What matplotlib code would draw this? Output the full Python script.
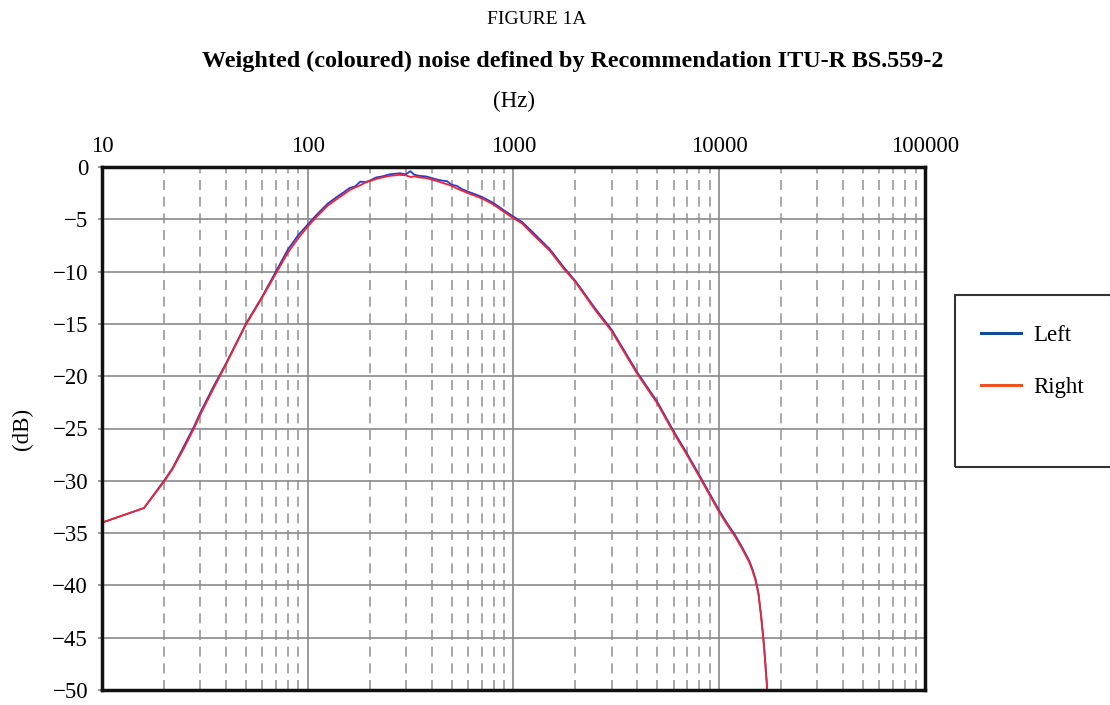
import numpy as np
import matplotlib
matplotlib.use('Agg')
import matplotlib.pyplot as plt
from matplotlib.ticker import FixedLocator, FixedFormatter, LogLocator, NullFormatter
from matplotlib.lines import Line2D
from matplotlib.patches import Rectangle

plt.rcParams['font.family'] = ['Liberation Serif', 'DejaVu Serif']

# frequency points (Hz)
freq = [10, 16, 20, 22, 25, 28, 30, 35, 40, 45,
        50, 60, 70, 80, 90, 100, 110, 125, 140, 150,
        160, 170, 180, 190, 200, 215, 230, 250, 265, 280,
        300, 315, 330, 350, 375, 400, 425, 450, 475, 500,
        530, 560, 600, 650, 700, 750, 800, 900, 1000, 1100,
        1250, 1500, 1750, 2000, 2500, 3000, 3500, 4000, 5000, 6000,
        7000, 8000, 9000, 10000, 11000, 12000, 13000, 14000, 14500, 15000,
        15500, 16000, 16500, 17000, 17300]

# left channel level (dB)
left = [-34.0, -32.6, -30.0, -28.8, -26.7, -24.8, -23.5, -20.9, -18.8, -16.8,
        -15.0, -12.4, -10.0, -7.9, -6.5, -5.5, -4.6, -3.5, -2.8, -2.4,
        -2.0, -1.85, -1.4, -1.45, -1.3, -1.0, -0.9, -0.7, -0.65, -0.6,
        -0.7, -0.4, -0.75, -0.85, -0.9, -1.05, -1.2, -1.3, -1.35, -1.7,
        -1.8, -2.1, -2.35, -2.6, -2.85, -3.15, -3.45, -4.15, -4.75, -5.25,
        -6.3, -7.85, -9.55, -10.9, -13.55, -15.55, -17.75, -19.65, -22.45, -25.25,
        -27.45, -29.45, -31.25, -32.85, -34.15, -35.25, -36.45, -37.65, -38.45, -39.35,
        -40.7, -43.0, -45.7, -49.2, -51.5]

# right channel level (dB)
right = [-34.0, -32.6, -30.1, -28.9, -26.9, -25.0, -23.7, -21.1, -18.9, -16.9,
         -15.1, -12.5, -10.2, -8.2, -6.8, -5.7, -4.8, -3.7, -3.0, -2.6,
         -2.2, -1.95, -1.75, -1.5, -1.35, -1.15, -1.0, -0.85, -0.8, -0.75,
         -0.8, -0.95, -0.9, -1.0, -1.05, -1.2, -1.35, -1.5, -1.65, -1.8,
         -2.05, -2.25, -2.5, -2.75, -3.0, -3.3, -3.6, -4.3, -4.9, -5.4,
         -6.5, -8.0, -9.7, -11.0, -13.7, -15.7, -17.9, -19.8, -22.6, -25.4,
         -27.6, -29.6, -31.4, -33.0, -34.3, -35.4, -36.6, -37.8, -38.6, -39.5,
         -40.8, -43.1, -45.8, -49.2, -51.5]

xticks = [10, 100, 1000, 10000, 100000]
xtick_labels = ['10', '100', '1000', '10000', '100000']
yticks = [0, -5, -10, -15, -20, -25, -30, -35, -40, -45, -50]

fig = plt.figure(figsize=(11.1, 7.05), dpi=100)
ax = fig.add_axes([102/1110, 1-690/705, (925-102)/1110, (690-167)/705])

ax.plot(freq, left, color='#3038d0', lw=1.3, label='Left')
ax.plot(freq, right, color='#ee2630', lw=1.3, label='Right')

ax.set_xscale('log')
ax.set_xlim(10, 100000)
ax.set_ylim(-50, 0)

ax.xaxis.set_major_locator(FixedLocator(xticks))
ax.xaxis.set_major_formatter(FixedFormatter(xtick_labels))
ax.xaxis.set_minor_locator(LogLocator(base=10, subs=np.arange(2, 10)))
ax.xaxis.set_minor_formatter(NullFormatter())
ax.xaxis.tick_top()
ax.xaxis.set_label_position('top')
ax.tick_params(axis='x', which='both', length=0, pad=7, labelsize=16.5)
ax.set_yticks(yticks)
ax.tick_params(axis='y', length=3, color='#888888', width=1.2, pad=7, labelsize=16.5)

ax.grid(True, which='major', axis='both', color='#8a8a8a', lw=1.2)
ax.grid(True, which='minor', axis='x', color='#9a9a9a', lw=1.2, linestyle=(0, (6, 4)))
ax.set_axisbelow(True)
for s in ax.spines.values():
    s.set_linewidth(2.5)
    s.set_color('#111111')

ax.set_xlabel('(Hz)', fontsize=16.5, labelpad=21)
ax.set_ylabel('(dB)', fontsize=16.5, labelpad=14)

fig.text(0.484, 1-20/705, 'FIGURE 1A', ha='center', va='center', fontsize=14)
fig.text(0.516, 1-61/705, 'Weighted (coloured) noise defined by Recommendation ITU-R BS.559-2',
         ha='center', va='center', fontsize=17.4, fontweight='bold')

# legend box sticking out past the right edge
fig.patches.append(Rectangle((955/1110, 1-467/705), 0.2, (467-295)/705, transform=fig.transFigure,
                             fill=False, edgecolor='#333333', lw=1.5))
handles = [Line2D([], [], color='#0d4a9a', lw=2.2), Line2D([], [], color='#f04e23', lw=2.2)]
fig.legend(handles, ['Left', 'Right'], loc='upper left', bbox_to_anchor=(960/1110, 1-304/705),
           frameon=False, fontsize=16.5, handlelength=1.75, labelspacing=1.38, handletextpad=0.57)

plt.savefig('out.png', dpi=100)
